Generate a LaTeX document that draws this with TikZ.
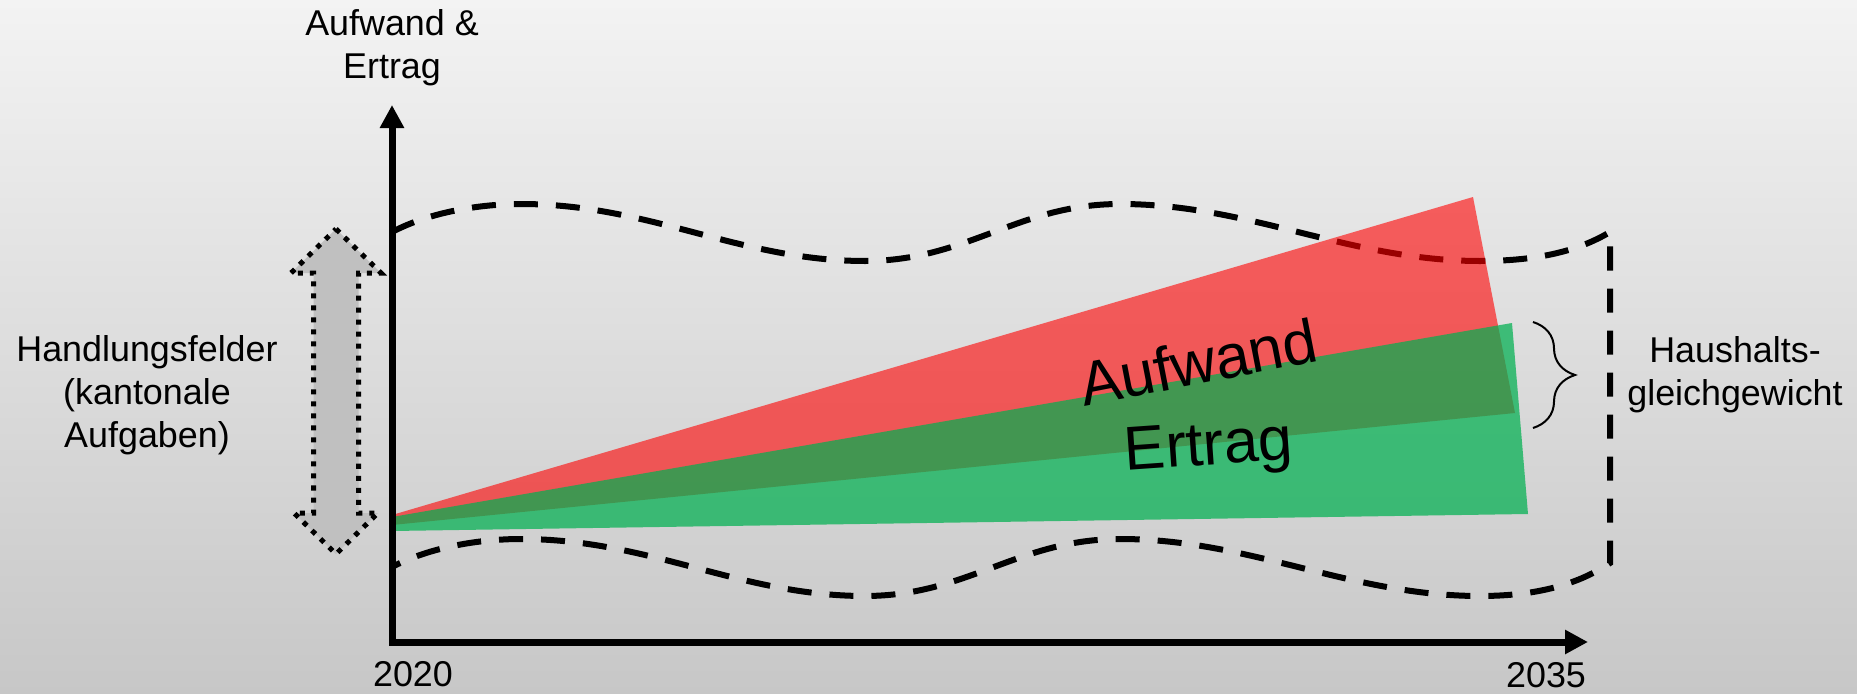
\documentclass[tikz,border=0pt]{standalone}
\usepackage{fontspec}
\setmainfont{Liberation Sans}
\usetikzlibrary{arrows.meta,decorations.pathreplacing}

\definecolor{bgtop}{RGB}{243,243,243}
\definecolor{bgbottom}{RGB}{199,199,199}
\definecolor{aufwandred}{RGB}{255,0,0}
\definecolor{ertraggreen}{RGB}{0,176,80}
\definecolor{arrowgray}{RGB}{192,192,192}

\begin{document}
\begin{tikzpicture}[x=0.01cm,y=-0.01cm,
    axis/.style={line width=0.07cm,line join=miter,
      {Triangle[length=0.23cm,width=0.23cm]}-{Triangle[length=0.23cm,width=0.23cm]}},
    band/.style={line width=0.06cm,dash pattern=on 0.24cm off 0.18cm},
    smalltext/.style={font=\fontsize{10.2}{12.2}\selectfont,align=center,inner sep=0pt},
    bigtext/.style={font=\fontsize{17.6}{21}\selectfont,inner sep=0pt}]

% Background
\useasboundingbox (0,0) rectangle (1857,694);
\shade[top color=bgtop,bottom color=bgbottom] (0,0) rectangle (1857,694);

% Corridor
\draw[band] (392,232) .. controls (430,212) and (480,204) .. (521,204)
  .. controls (650,204) and (740,261) .. (865,261)
  .. controls (967,261) and (1018,204) .. (1120,204)
  .. controls (1250,204) and (1350,261) .. (1480,261)
  .. controls (1540,261) and (1580,250) .. (1610,232)
  -- (1610,563)
  .. controls (1580,583) and (1540,596) .. (1480,596)
  .. controls (1350,596) and (1250,539) .. (1120,539)
  .. controls (1018,539) and (967,596) .. (865,596)
  .. controls (740,596) and (650,539) .. (521,539)
  .. controls (480,539) and (430,547) .. (392,567);

% Wedges
\fill[aufwandred,opacity=0.6] (392,515) -- (1473,197) -- (1515,413) -- (392,525) -- cycle;
\fill[ertraggreen,opacity=0.72] (392,517) -- (1512,323) -- (1528,514) -- (392,531) -- cycle;

% Double arrow
\filldraw[fill=arrowgray,draw=black,line width=0.05cm,dash pattern=on 0.05cm off 0.07cm]
  (336,229) -- (381,273) -- (358.5,273) -- (358.5,513) -- (378,513) -- (336,554)
  -- (294,513) -- (313.5,513) -- (313.5,273) -- (291,273) -- cycle;

% Axes
\coordinate (origin) at (392,642);
\coordinate (ytip) at (392,105);
\coordinate (xtip) at (1588,642);
\draw[axis] (ytip) -- (origin) -- (xtip);

% Brace
\coordinate (bracetop) at (1533,322);
\coordinate (bracebot) at (1533,428);
\draw[line width=0.02cm,decorate,decoration={brace,amplitude=0.42cm}] (bracetop) -- (bracebot);

% Labels
\node[smalltext] (ylabel) at (392,48) {Aufwand \&\\Ertrag};
\node[smalltext] (start) at (413,674) {2020};
\node[smalltext] (end) at (1546,675) {2035};
\node[smalltext] (felder) at (147,395) {Handlungsfelder\\(kantonale\\Aufgaben)};
\node[smalltext] (haushalt) at (1735,375) {Haushalts-\\gleichgewicht};
\node[bigtext,rotate=11] (aufwand) at (1198,362) {Aufwand};
\node[bigtext,rotate=4] (ertrag) at (1209,450) {Ertrag};
\end{tikzpicture}
\end{document}
